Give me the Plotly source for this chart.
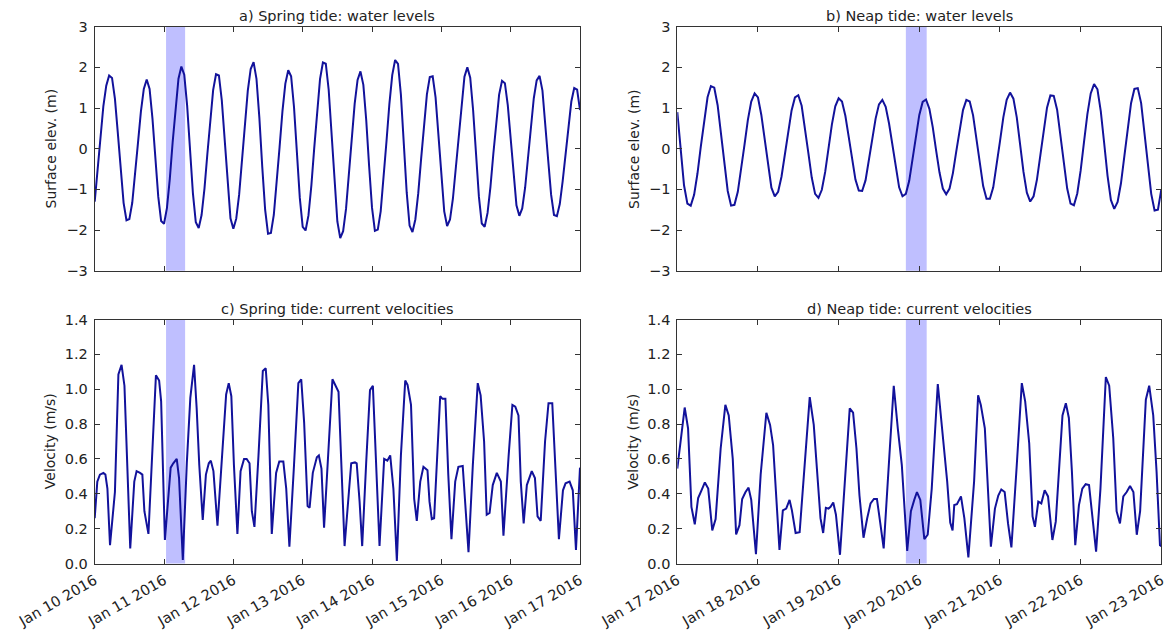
import pandas as pd
import plotly.graph_objects as go

# ---------------- data ----------------
spring_start = "2016-01-10 00:00"
neap_start = "2016-01-17 00:00"

# hourly surface elevation (m), spring period, from Jan 10 00:00
spring_level = [
    -1.30, -0.55, 0.30, 1.05, 1.55, 1.80, 1.74, 1.23, 0.39, -0.55,
    -1.33, -1.76, -1.73, -1.33, -0.65, 0.155, 0.92, 1.47, 1.70, 1.47,
    0.74, -0.24, -1.18, -1.78, -1.845, -1.46, -0.74, 0.17, 1.05, 1.72,
    2.02, 1.82, 1.06, -0.03, -1.10, -1.81, -1.95, -1.63, -0.98, -0.13,
    0.73, 1.44, 1.83, 1.80, 1.19, 0.18, -0.91, -1.71, -1.97, -1.72,
    -1.13, -0.29, 0.625, 1.43, 1.96, 2.13, 1.72, 0.765, -0.44, -1.50,
    -2.09, -2.07, -1.63, -0.87, 0.04, 0.925, 1.60, 1.93, 1.78, 1.02,
    -0.11, -1.21, -1.92, -2.01, -1.64, -0.91, 0.02, 0.95, 1.71, 2.12,
    2.09, 1.45, 0.36, -0.85, -1.79, -2.20, -2.03, -1.48, -0.66, 0.27,
    1.11, 1.69, 1.90, 1.57, 0.70, -0.43, -1.45, -2.02, -1.99, -1.54,
    -0.77, 0.17, 1.09, 1.81, 2.18, 2.085, 1.33, 0.14, -1.07, -1.89,
    -2.05, -1.74, -1.10, -0.25, 0.62, 1.335, 1.76, 1.78, 1.26, 0.335,
    -0.71, -1.54, -1.90, -1.74, -1.23, -0.47, 0.40, 1.20, 1.77, 2.00,
    1.745, 0.945, -0.14, -1.18, -1.84, -1.92, -1.58, -0.94, -0.125, 0.69,
    1.33, 1.67, 1.61, 1.07, 0.21, -0.70, -1.39, -1.65, -1.47, -0.96,
    -0.24, 0.55, 1.24, 1.68, 1.79, 1.43, 0.66, -0.29, -1.13, -1.63,
    -1.66, -1.36, -0.80, -0.11, 0.59, 1.16, 1.49, 1.45, 0.95,
]

# hourly surface elevation (m), neap period, from Jan 17 00:00
neap_level = [
    0.90, -0.10, -0.90, -1.35, -1.40, -1.135, -0.61, 0.06, 0.73, 1.265,
    1.54, 1.50, 1.07, 0.38, -0.39, -1.04, -1.40, -1.38, -1.06, -0.53,
    0.10, 0.71, 1.16, 1.36, 1.26, 0.83, 0.20, -0.46, -0.96, -1.17,
    -1.06, -0.69, -0.16, 0.43, 0.94, 1.26, 1.315, 1.055, 0.53, -0.11,
    -0.71, -1.11, -1.21, -1.01, -0.57, 0.015, 0.60, 1.04, 1.24, 1.16,
    0.81, 0.29, -0.28, -0.76, -1.03, -1.04, -0.78, -0.32, 0.23, 0.74,
    1.09, 1.20, 1.03, 0.62, 0.07, -0.50, -0.95, -1.17, -1.11, -0.79,
    -0.27, 0.31, 0.83, 1.15, 1.21, 0.98, 0.53, -0.04, -0.58, -0.98,
    -1.12, -0.98, -0.60, -0.065, 0.50, 0.95, 1.20, 1.16, 0.82, 0.26,
    -0.37, -0.92, -1.23, -1.23, -0.95, -0.44, 0.18, 0.77, 1.20, 1.38,
    1.23, 0.77, 0.11, -0.57, -1.08, -1.30, -1.17, -0.76, -0.17, 0.47,
    1.01, 1.31, 1.30, 0.96, 0.35, -0.35, -0.98, -1.35, -1.39, -1.10,
    -0.54, 0.16, 0.845, 1.36, 1.59, 1.46, 0.92, 0.14, -0.66, -1.26,
    -1.48, -1.31, -0.85, -0.19, 0.52, 1.12, 1.47, 1.49, 1.12, 0.42,
    -0.39, -1.11, -1.52, -1.50, -1.00,
]

# current speed (m/s), spring period: hours after Jan 10 00:00 and values
spring_vel_hours = [
    0.0, 0.9, 1.8, 3.0, 3.7, 4.4, 5.3, 7.0, 8.2, 9.3, 10.3, 11.0, 12.3,
    13.7, 14.5, 15.7, 16.5, 17.2, 18.6, 20.0, 21.2, 22.3, 23.0, 24.3,
    26.3, 27.2, 28.4, 29.2, 30.5, 31.9, 33.1, 34.4, 35.3, 36.2, 37.4,
    38.5, 39.5, 40.2, 41.1, 42.5, 43.9, 45.5, 46.4, 47.3, 48.2, 49.4,
    50.5, 51.7, 52.6, 53.6, 54.4, 55.3, 56.7, 58.2, 59.2, 60.1, 61.3,
    62.8, 63.9, 65.3, 66.3, 67.4, 69.0, 70.5, 71.5, 72.5, 73.7, 74.4,
    75.5, 76.9, 77.6, 78.5, 79.4, 80.9, 82.3, 84.4, 85.5, 86.5,
    88.0, 88.8, 90.1, 90.7, 91.7, 92.6, 94.0, 95.3, 96.3, 97.2, 98.6,
    100.2, 101.3, 102.3, 103.4, 104.6, 106.0, 107.5, 108.3, 109.5, 110.6, 111.5,
    112.7, 113.8, 115.2, 115.9, 116.7, 117.5, 118.7, 119.6, 120.4, 121.4, 122.4, 123.5,
    124.8, 125.9, 127.4, 128.2, 129.4, 130.9, 132.6, 133.6, 134.8, 135.7, 136.7,
    137.8, 139.2, 140.6, 141.5, 143.3, 144.6, 145.6, 146.7, 147.5, 148.5,
    149.6, 151.3, 152.4, 153.3, 154.4, 155.9, 157.1, 158.4, 159.5, 160.7,
    162.1, 163.0, 164.4, 165.5, 166.6, 168.0,
]
spring_vel = [
    0.26, 0.47, 0.51, 0.52, 0.51, 0.43, 0.105, 0.41, 1.085, 1.14, 1.02, 0.66, 0.087,
    0.47, 0.53, 0.52, 0.51, 0.30, 0.17, 0.66, 1.08, 1.05, 0.93, 0.135,
    0.55, 0.575, 0.60, 0.49, 0.02, 0.58, 0.95, 1.14, 0.89, 0.565, 0.25,
    0.51, 0.575, 0.59, 0.53, 0.217, 0.565, 0.97, 1.035, 0.96, 0.565, 0.17,
    0.53, 0.60, 0.60, 0.575, 0.30, 0.21, 0.62, 1.105, 1.12, 0.91, 0.17,
    0.52, 0.585, 0.585, 0.43, 0.097, 0.565, 1.035, 1.057, 0.81, 0.33, 0.32,
    0.52, 0.61, 0.62, 0.545, 0.205, 0.66, 1.057, 0.985, 0.565, 0.10,
    0.41, 0.575, 0.58, 0.575, 0.355, 0.10, 0.585, 0.995, 1.02, 0.66, 0.10,
    0.60, 0.59, 0.62, 0.43, 0.015, 0.62, 1.05, 1.025, 0.91, 0.37, 0.245,
    0.47, 0.555, 0.535, 0.355, 0.255, 0.26, 0.62, 0.96, 0.945, 0.945, 0.51, 0.14,
    0.47, 0.555, 0.56, 0.355, 0.065, 0.565, 1.035, 0.965, 0.70, 0.28, 0.29,
    0.45, 0.52, 0.47, 0.16, 0.62, 0.91, 0.90, 0.85, 0.47, 0.23,
    0.45, 0.53, 0.49, 0.27, 0.245, 0.70, 0.92, 0.92, 0.545, 0.14,
    0.42, 0.46, 0.47, 0.42, 0.078, 0.55,
]

# current speed (m/s), neap period: hours after Jan 17 00:00 and values
neap_vel_hours = [
    0.0, 1.05, 2.2, 3.2, 4.2, 5.2, 6.2, 7.2, 8.2, 9.2, 10.4, 11.4, 12.9,
    14.3, 15.3, 16.5, 17.5, 18.5, 19.3, 20.3, 21.2, 22.0, 23.4, 24.8,
    26.5, 27.6, 28.5, 30.4, 31.4, 32.4, 33.4, 34.1, 35.2, 36.4, 37.9,
    39.4, 40.6, 41.4, 42.6, 43.4, 44.2, 45.0, 45.6, 46.4, 47.2, 48.4,
    50.0, 51.3, 52.3, 53.3, 54.2, 55.4, 56.5, 57.5, 58.5, 59.4, 60.4,
    61.4, 63.1, 64.4, 65.6, 66.8, 68.4, 69.5, 70.5, 71.3, 72.3, 73.5,
    74.5, 75.7, 77.5, 78.7, 80.3, 81.2, 81.9, 82.4, 83.2, 84.4, 85.4,
    86.6, 88.3, 89.5, 90.3, 91.5, 93.3, 94.5, 95.5, 96.4, 97.4, 98.4,
    99.4, 101.0, 102.5, 103.5, 104.7, 105.7, 106.4, 107.4, 108.3, 109.3,
    110.3, 111.6, 112.6, 114.6, 115.6, 116.5, 117.4, 118.4, 119.5, 120.5,
    121.5, 122.5, 123.5, 124.6, 125.9, 127.5, 128.5, 129.7, 130.7, 131.7,
    132.7, 133.7, 134.7, 135.7, 136.7, 137.7, 139.4, 140.4, 141.6, 142.6,
    143.6, 144.0,
]
neap_vel = [
    0.545, 0.72, 0.895, 0.775, 0.325, 0.225, 0.375, 0.42, 0.465, 0.43, 0.19, 0.255, 0.66,
    0.91, 0.85, 0.60, 0.167, 0.22, 0.37, 0.41, 0.435, 0.365, 0.053, 0.51,
    0.865, 0.795, 0.68, 0.078, 0.305, 0.315, 0.365, 0.305, 0.175, 0.18, 0.585,
    0.955, 0.795, 0.595, 0.26, 0.175, 0.32, 0.315, 0.325, 0.35, 0.28, 0.05,
    0.51, 0.89, 0.865, 0.66, 0.39, 0.148, 0.26, 0.345, 0.37, 0.37, 0.23,
    0.087, 0.62, 1.02, 0.775, 0.565, 0.072, 0.30, 0.365, 0.41, 0.365, 0.14,
    0.165, 0.43, 1.03, 0.795, 0.47, 0.235, 0.19, 0.335, 0.34, 0.385, 0.26,
    0.035, 0.47, 0.965, 0.91, 0.775, 0.097, 0.315, 0.39, 0.425, 0.41, 0.23,
    0.092, 0.565, 1.035, 0.93, 0.69, 0.27, 0.21, 0.355, 0.345, 0.42,
    0.385, 0.135, 0.24, 0.85, 0.92, 0.835, 0.53, 0.105, 0.335, 0.43,
    0.455, 0.45, 0.28, 0.068, 0.43, 1.07, 1.02, 0.72, 0.30, 0.23,
    0.385, 0.41, 0.445, 0.41, 0.165, 0.30, 0.94, 1.02, 0.85, 0.525,
    0.105, 0.10,
]

# highlighted windows
spring_band = ["2016-01-11 00:42", "2016-01-11 07:18"]
neap_band = ["2016-01-19 20:00", "2016-01-20 02:12"]

# x tick labels
spring_ticks = ["2016-01-%02d" % d for d in range(10, 18)]
spring_ticklabels = ["Jan %d 2016" % d for d in range(10, 18)]
neap_ticks = ["2016-01-%02d" % d for d in range(17, 24)]
neap_ticklabels = ["Jan %d 2016" % d for d in range(17, 24)]

titles = ["a) Spring tide: water levels", "b) Neap tide: water levels",
          "c) Spring tide: current velocities", "d) Neap tide: current velocities"]
ylabels = ["Surface elev. (m)", "Surface elev. (m)", "Velocity (m/s)", "Velocity (m/s)"]

# ---------------- figure ----------------
W, H = 1165, 630
LINE = "rgb(18,18,155)"
BAND = "rgba(0,0,255,0.25)"
TXT = "#222222"
FONT = "DejaVu Sans"

s0 = pd.Timestamp(spring_start)
n0 = pd.Timestamp(neap_start)
x_sl = [s0 + pd.Timedelta(hours=h) for h in range(len(spring_level))]
x_nl = [n0 + pd.Timedelta(hours=h) for h in range(len(neap_level))]
x_sv = [s0 + pd.Timedelta(hours=h) for h in spring_vel_hours]
x_nv = [n0 + pd.Timedelta(hours=h) for h in neap_vel_hours]

fig = go.Figure()
series = [(x_sl, spring_level, "x", "y"), (x_nl, neap_level, "x2", "y2"),
          (x_sv, spring_vel, "x3", "y3"), (x_nv, neap_vel, "x4", "y4")]
for xs, ys, xa, ya in series:
    fig.add_trace(go.Scatter(x=xs, y=ys, mode="lines", xaxis=xa, yaxis=ya,
                             line=dict(color=LINE, width=2), showlegend=False,
                             hoverinfo="skip"))

# panel geometry (pixels)
LX = (94.7, 580.0)
RX = (677.3, 1161.3)
TY = (26.7, 270.7)
BY = (319.5, 563.5)

def xd(p):
    return [p[0] / W, p[1] / W]

def yd(p):
    return [1 - p[1] / H, 1 - p[0] / H]

common = dict(showgrid=False, zeroline=False, showline=True, linecolor="#333333",
              linewidth=1, mirror="allticks", ticks="inside", ticklen=5,
              tickwidth=1, tickcolor="#333333", automargin=False,
              ticklabeloverflow="allow",
              tickfont=dict(family=FONT, size=14.5, color=TXT))

panels = [
    ("xaxis", "yaxis", LX, TY, spring_ticks, spring_ticklabels, False, [-3, 3], 1, None),
    ("xaxis2", "yaxis2", RX, TY, neap_ticks, neap_ticklabels, False, [-3, 3], 1, None),
    ("xaxis3", "yaxis3", LX, BY, spring_ticks, spring_ticklabels, True, [0, 1.4], 0.2, ".1f"),
    ("xaxis4", "yaxis4", RX, BY, neap_ticks, neap_ticklabels, True, [0, 1.4], 0.2, ".1f"),
]
layout_axes = {}
for i, (xk, yk, px, py, tv, tt, showlab, yr, dt, fmt) in enumerate(panels):
    ysuffix = "" if i == 0 else str(i + 1)
    layout_axes[xk] = dict(common, domain=xd(px), anchor="y" + ysuffix,
                           range=[tv[0], tv[-1]], type="date",
                           tickmode="array", tickvals=tv, ticktext=tt,
                           showticklabels=showlab, tickangle=-30,
                           ticklabelstandoff=2)
    yax = dict(common, domain=yd(py), anchor="x" + ysuffix, range=yr,
               tickmode="linear", tick0=yr[0], dtick=dt, ticklabelstandoff=3)
    if fmt:
        yax["tickformat"] = fmt
    layout_axes[yk] = yax

fig.update_layout(template="none", width=W, height=H,
                  margin=dict(l=0, r=0, t=0, b=0, autoexpand=False),
                  paper_bgcolor="white", plot_bgcolor="white",
                  font=dict(family=FONT, color=TXT), **layout_axes)

# shaded windows
for xr, yr, band in [("x", "y", spring_band), ("x3", "y3", spring_band),
                     ("x2", "y2", neap_band), ("x4", "y4", neap_band)]:
    fig.add_shape(type="rect", xref=xr, yref=yr + " domain", x0=band[0], x1=band[1],
                  y0=0, y1=1, fillcolor=BAND, line=dict(width=0), layer="below")

# panel titles and y labels
geo = [(LX, TY), (RX, TY), (LX, BY), (RX, BY)]
for (px, py), t, yl in zip(geo, titles, ylabels):
    fig.add_annotation(text=t, xref="paper", yref="paper",
                       x=(px[0] + px[1]) / 2 / W, y=1 - (py[0] - 10.5) / H,
                       xanchor="center", yanchor="middle", showarrow=False,
                       font=dict(family=FONT, size=14.5, color=TXT))
    fig.add_annotation(text=yl, xref="paper", yref="paper", textangle=-90,
                       x=(px[0] - 44) / W, y=1 - (py[0] + py[1]) / 2 / H,
                       xanchor="center", yanchor="middle", showarrow=False,
                       font=dict(family=FONT, size=14, color=TXT))

fig.write_html("out.html",
               config={"displayModeBar": False, "staticPlot": True},
               post_script="document.body.style.margin='0';"
                           "document.body.style.overflow='hidden';")
